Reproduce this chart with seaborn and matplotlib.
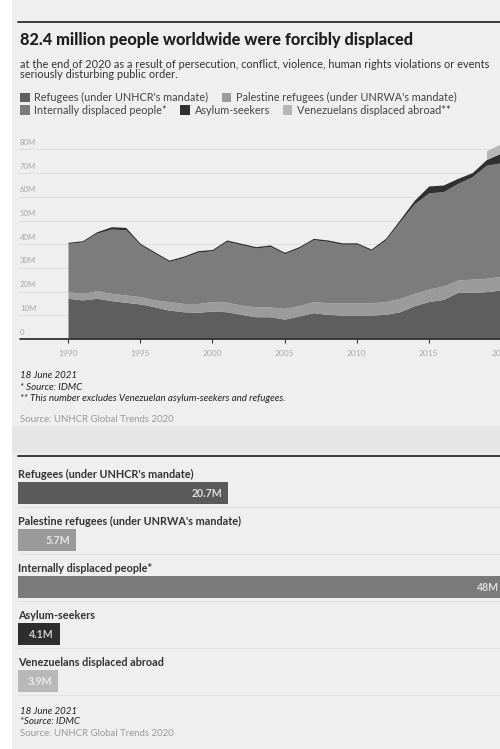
import numpy as np
import pandas as pd
import matplotlib
matplotlib.use("Agg")
import matplotlib.pyplot as plt
import matplotlib.transforms as mtransforms
from matplotlib.patches import Rectangle
from matplotlib.lines import Line2D
import seaborn as sns

# ---------------------------------------------------------------- data
years = list(range(1990, 2021))
refugees = [17.2, 16.5, 17.2, 16.2, 15.5, 14.8, 13.6, 12.2, 11.5, 11.3,
            11.8, 11.5, 10.4, 9.4, 9.4, 8.4, 9.7, 11.1, 10.4, 10.1,
            10.1, 10.1, 10.4, 11.5, 14.1, 15.8, 16.7, 19.7, 19.7, 20.0, 20.7]
palestine = [2.8, 2.8, 3.2, 3.1, 3.1, 3.1, 2.9, 3.6, 3.5, 3.7,
             4.0, 4.1, 3.9, 4.2, 4.2, 4.5, 4.4, 4.7, 4.9, 5.2,
             5.2, 5.2, 5.4, 5.7, 5.2, 5.3, 5.7, 5.2, 5.6, 5.6, 5.7]
idps = [20.3, 21.7, 24.3, 27.1, 27.5, 21.9, 19.7, 16.9, 19.4, 21.7,
        21.4, 25.6, 25.5, 24.8, 25.5, 23.1, 24.3, 26.1, 25.9, 24.7,
        24.7, 22.1, 26.0, 32.4, 37.8, 40.6, 39.8, 40.8, 43.2, 47.8, 48.0]
asylum = [0.5, 0.5, 0.6, 1.0, 1.0, 0.6, 0.6, 0.6, 0.6, 0.6,
          0.6, 0.6, 0.6, 0.6, 0.6, 0.6, 0.6, 0.6, 0.6, 0.6,
          0.6, 0.6, 0.7, 0.9, 1.5, 2.9, 2.8, 2.1, 1.7, 2.4, 4.1]
venezuelans = [np.nan] * 29 + [3.7, 3.9]

series_names = ["Refugees (under UNHCR's mandate)",
                "Palestine refugees (under UNRWA's mandate)",
                "Internally displaced people*",
                "Asylum-seekers",
                "Venezuelans displaced abroad**"]
series_colors = ["#5e5e5e", "#9b9b9b", "#7c7c7c", "#303030", "#b6b6b6"]

y_ticks = [0, 10, 20, 30, 40, 50, 60, 70, 80]
y_tick_labels = ["0", "10M", "20M", "30M", "40M", "50M", "60M", "70M", "80M"]
x_ticks = [1990, 1995, 2000, 2005, 2010, 2015, 2020]

bar_categories = ["Refugees (under UNHCR's mandate)",
                  "Palestine refugees (under UNRWA's mandate)",
                  "Internally displaced people*",
                  "Asylum-seekers",
                  "Venezuelans displaced abroad"]
bar_values = [20.7, 5.7, 48.0, 4.1, 3.9]
bar_labels = ["20.7M", "5.7M", "48M", "4.1M", "3.9M"]
bar_colors = ["#5a5a5a", "#9a9a9a", "#7a7a7a", "#2e2e2e", "#b8b8b8"]
bar_label_colors = ["#dddddd", "#e6e6e6", "#dddddd", "#cccccc", "#eaeaea"]

# ---------------------------------------------------------------- style
sns.set_style("white")
plt.rcParams["font.family"] = ["Lato", "DejaVu Sans"]

W, H = 500, 749
fig = plt.figure(figsize=(W / 100, H / 100), dpi=100, facecolor="white")


def fx(px):
    return px / W


def fy(py):
    return 1 - py / H


PANEL = "#efefef"
fig.patches.append(Rectangle((fx(12), 0), 1, 1, transform=fig.transFigure,
                             facecolor=PANEL, edgecolor="none", zorder=-10))
fig.patches.append(Rectangle((fx(12), fy(453)), 1, (453 - 426) / H,
                             transform=fig.transFigure, facecolor="#e6e6e6",
                             edgecolor="none", zorder=-9))

# horizontal rules above each section
for ry in (22, 456):
    fig.lines.append(Line2D([fx(18), 1], [fy(ry), fy(ry)], transform=fig.transFigure,
                            color="#3a3a3a", lw=1.4))

renderer = fig.canvas.get_renderer()


def fit(t, width_px):
    w = t.get_window_extent(renderer).width
    t.set_fontsize(t.get_fontsize() * width_px / w)
    return t.get_fontsize()


# ---------------------------------------------------------------- header
title = fig.text(fx(20), fy(45), "82.4 million people worldwide were forcibly displaced",
                 fontsize=12, fontweight="black", color="#1e1e1e", va="baseline")
fit(title, 392)

sub1 = fig.text(fx(20), fy(64), "at the end of 2020 as a result of persecution, conflict, violence, "
                "human rights violations or events", fontsize=7, color="#333333", va="center")
sfs = fit(sub1, 465)
fig.text(fx(20), fy(75), "seriously disturbing public order.", fontsize=sfs,
         color="#333333", va="center")

# legend rows, laid out left to right
legend_rows = [[0, 1], [2, 3, 4]]
legend_y = [97.5, 110]
probe = fig.text(0, 0, series_names[0], fontsize=7.5)
lfs = fit(probe, 173)
probe.remove()
for row, ly in zip(legend_rows, legend_y):
    x = 20
    for k in row:
        fig.patches.append(Rectangle((fx(x), fy(ly + 4.7)), 9.5 / W, 9.5 / H,
                                     transform=fig.transFigure,
                                     facecolor=series_colors[k], edgecolor="none"))
        t = fig.text(fx(x + 14.5), fy(ly), series_names[k], fontsize=lfs,
                     color="#444444", va="center")
        x = x + 14.5 + t.get_window_extent(renderer).width + 13

# ---------------------------------------------------------------- area chart
ax = fig.add_axes([fx(68), fy(339), 1 - fx(68) + 0.002, 199 / H])
ax.set_facecolor("none")
ax.set_xlim(1990, 2020)
ax.set_ylim(0, 84)
for s in ax.spines.values():
    s.set_visible(False)

stack = [refugees, palestine, idps, asylum, venezuelans]
base = np.zeros(len(years))
for vals, col in zip(stack, series_colors):
    v = np.array(vals, dtype=float)
    top = base + v
    ax.fill_between(years, base, top, color=col, lw=0, zorder=2)
    base = np.where(np.isnan(v), base, top)

blend = mtransforms.blended_transform_factory(fig.transFigure, ax.transData)
label_tr = mtransforms.offset_copy(blend, fig=fig, y=3.2, units="points")
for v, lab in zip(y_ticks, y_tick_labels):
    if v > 0:
        ax.add_line(Line2D([fx(18), 1], [v, v], transform=blend, color="#dddddd",
                           lw=0.7, zorder=1, clip_on=False))
    ax.text(fx(20), v, lab, transform=label_tr, fontsize=5.6, color="#a8a8a8",
            va="baseline", ha="left")
ax.add_line(Line2D([fx(20), 1], [0, 0], transform=blend, color="#333333",
                   lw=1.3, zorder=4, clip_on=False))

ax.set_yticks([])
ax.set_xticks(x_ticks)
ax.set_xticklabels([str(x) for x in x_ticks])
ax.tick_params(axis="x", direction="out", length=3, width=0.8, color="#333333",
               labelsize=6, labelcolor="#a8a8a8", pad=5, bottom=True)
ax.grid(False)

# footnotes under the area chart
foot = fig.text(fx(20), fy(399), "** This number excludes Venezuelan asylum-seekers and refugees.",
                fontsize=6.5, style="italic", color="#222222", va="center")
ffs = fit(foot, 265)
fig.text(fx(20), fy(375), "18 June 2021", fontsize=ffs, style="italic", color="#222222", va="center")
fig.text(fx(20), fy(387), "* Source: IDMC", fontsize=ffs, style="italic", color="#222222", va="center")
src = fig.text(fx(20), fy(419), "Source: UNHCR Global Trends 2020", fontsize=7,
               color="#9a9a9a", va="center")
srcfs = fit(src, 155)

# ---------------------------------------------------------------- bar chart
bx = fig.add_axes([fx(18), fy(704.5), (505 - 18) / W, 235 / H])
df = pd.DataFrame({"category": bar_categories, "value": bar_values})
sns.barplot(data=df, x="value", y="category", hue="category", palette=bar_colors,
            orient="h", width=22 / 47, saturation=1, legend=False, ax=bx,
            edgecolor="none", linewidth=0)
bx.set_xlim(0, 48)
bx.set_ylim(4.5, -0.5)
bx.axis("off")

probe = fig.text(0, 0, bar_categories[0], fontsize=7.5, fontweight="bold")
cfs = fit(probe, 175)
probe.remove()
val_tr = mtransforms.offset_copy(bx.transData, fig=fig, x=-4, units="points")
sep_blend = mtransforms.blended_transform_factory(fig.transFigure, bx.transData)
for i, (cat, val, lab) in enumerate(zip(bar_categories, bar_values, bar_labels)):
    bx.text(0, i - 0.385, cat, fontsize=cfs, fontweight="bold", color="#333333",
            va="center", ha="left")
    bx.text(val, i + 0.01, lab, transform=val_tr, fontsize=cfs * 0.97, fontweight="bold",
            color=bar_label_colors[i], va="center", ha="right")
    bx.add_line(Line2D([fx(18), 1], [i + 0.3, i + 0.3], transform=sep_blend,
                       color="#e0e0e0", lw=0.8, clip_on=False))

fig.text(fx(20), fy(712), "18 June 2021", fontsize=ffs, style="italic", color="#222222", va="center")
fig.text(fx(20), fy(722), "*Source: IDMC", fontsize=ffs, style="italic", color="#222222", va="center")
fig.text(fx(20), fy(733), "Source: UNHCR Global Trends 2020", fontsize=srcfs,
         color="#9a9a9a", va="center")

fig.savefig("out.png", dpi=100, facecolor="white")
